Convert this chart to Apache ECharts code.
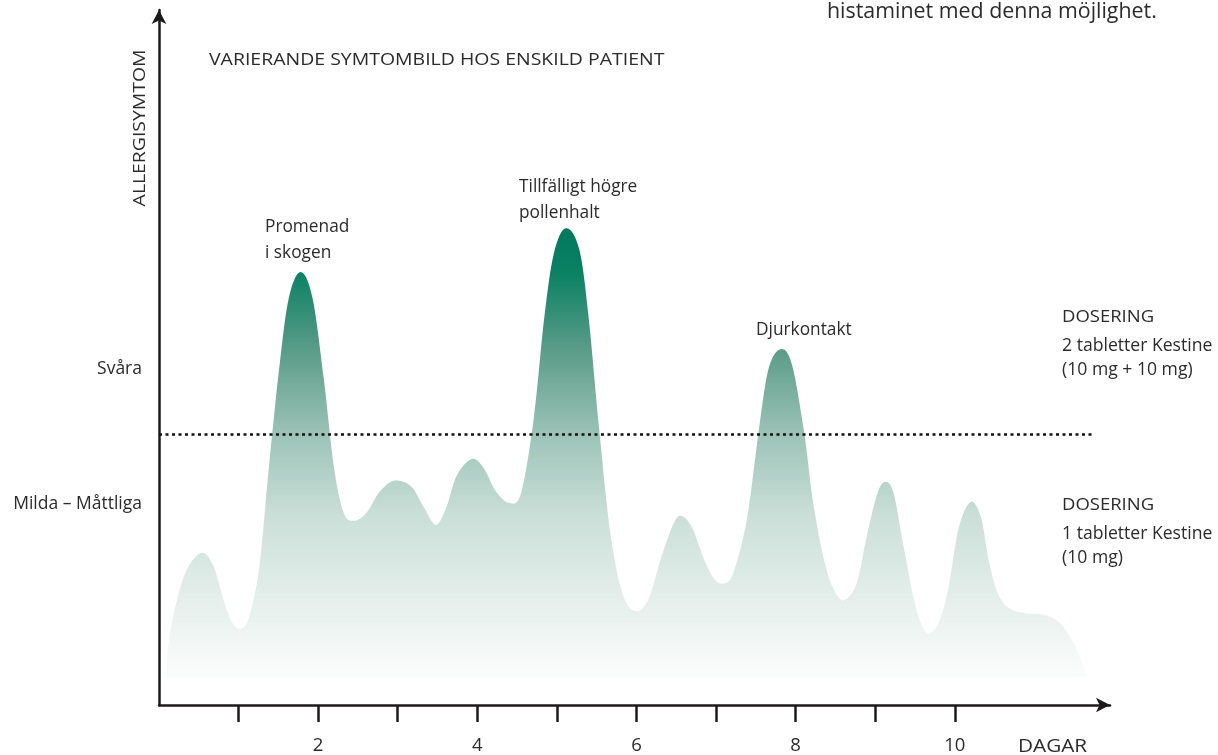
<!DOCTYPE html>
<html>
<head>
<meta charset="utf-8">
<script src="https://cdn.jsdelivr.net/npm/echarts@6/dist/echarts.min.js"></script>
<style>
html,body{margin:0;padding:0;background:#fff;}
#chart{width:1218px;height:755px;}
</style>
</head>
<body>
<div id="chart"></div>
<script>
// ---- data (days on x, symptom level 0-100 on y) ----
var days = [0.08,0.13,0.25,0.38,0.55,0.69,0.82,0.92,1.02,1.13,1.26,1.38,1.51,1.63,1.78,1.93,2.07,2.20,2.32,2.45,2.61,2.76,2.91,3.05,3.19,3.33,3.48,3.61,3.74,3.93,4.08,4.23,4.40,4.55,4.71,4.84,4.96,5.11,5.28,5.40,5.53,5.68,5.84,6.01,6.16,6.31,6.47,6.57,6.70,6.85,6.98,7.10,7.22,7.39,7.54,7.66,7.81,7.95,8.10,8.23,8.38,8.52,8.63,8.77,8.89,9.02,9.12,9.23,9.36,9.48,9.57,9.67,9.80,9.92,10.05,10.20,10.33,10.43,10.55,10.70,10.89,11.12,11.31,11.49,11.66];
var symptoms = [4.3,9.7,16.2,20.1,21.9,19.8,14.8,11.9,11.0,12.6,19.8,34.1,48.4,58.5,62.3,58.5,47.0,34.1,27.7,26.5,27.7,30.5,32.1,32.2,31.2,28.4,25.9,28.4,33.0,35.4,34.1,30.8,29.1,30.5,41.3,55.6,64.9,68.6,65.6,55.6,39.8,24.1,15.5,13.5,15.5,21.2,26.2,27.2,25.5,20.9,18.1,17.5,19.1,26.9,39.8,48.4,51.2,49.1,39.8,28.4,19.8,15.8,15.2,17.6,24.1,30.2,32.1,30.5,22.6,15.5,11.9,10.3,11.9,16.9,25.5,29.2,26.9,20.5,15.8,13.8,13.2,13.0,11.9,9.0,4.3];
var doseThreshold = 39;
var areaBase = 4;
var xTicks = [1,2,3,4,5,6,7,8,9,10];
var xTickLabels = [2,4,6,8,10];
var yLevelValues = [28.9, 48.4];
var yLevelLabels = ['Milda – Måttliga', 'Svåra'];
var annotations = [
  {text:'Promenad\ni skogen', x:265, y:214},
  {text:'Tillfälligt högre\npollenhalt', x:519, y:174},
  {text:'Djurkontakt', x:756, y:317}
];
var doseNotes = [
  {head:'DOSERING', body:'2 tabletter Kestine\n(10 mg + 10 mg)', y:317},
  {head:'DOSERING', body:'1 tabletter Kestine\n(10 mg)', y:505}
];

var FONT = '"Open Sans", "Liberation Sans", sans-serif';
var TXT = '#2b2b2b';
var AX = '#1c1a1b';

var chart = echarts.init(document.getElementById('chart'), null, {renderer:'canvas'});
var seriesData = days.map(function(d,i){return [d, symptoms[i]];});

var graphics = [];
graphics.push({type:'text', x:827, y:1, style:{text:'histaminet med denna möjlighet.', font:'21.4px '+FONT, fill:TXT}});
graphics.push({type:'text', x:209, y:60, scaleX:1.145, style:{text:'VARIERANDE SYMTOMBILD HOS ENSKILD PATIENT', font:'17px '+FONT, fill:TXT, verticalAlign:'middle'}});
graphics.push({type:'text', x:141, y:128, rotation:Math.PI/2, scaleX:1.25, style:{text:'ALLERGISYMTOM', font:'15.5px '+FONT, fill:TXT, align:'center', verticalAlign:'middle'}});
annotations.forEach(function(a){
  graphics.push({type:'text', x:a.x, y:a.y, style:{text:a.text, font:'17.3px '+FONT, fill:TXT, lineHeight:26}});
});
doseNotes.forEach(function(n){
  graphics.push({type:'text', x:1062, y:n.y, scaleX:1.12, style:{text:n.head, font:'16.5px '+FONT, fill:TXT, verticalAlign:'middle'}});
  graphics.push({type:'text', x:1062, y:n.y+17, style:{text:n.body, font:'17.6px '+FONT, fill:TXT, lineHeight:24}});
});
graphics.push({type:'text', x:1018, y:747, scaleX:1.12, style:{text:'DAGAR', font:'18.5px '+FONT, fill:TXT, verticalAlign:'middle'}});

var gradient = new echarts.graphic.LinearGradient(0,0,0,1,[
  {offset:0, color:'#00785b'},
  {offset:0.1, color:'#0b8164'},
  {offset:0.27, color:'#5a9c88'},
  {offset:0.46, color:'#9cc3b7'},
  {offset:0.64, color:'#cadfd8'},
  {offset:0.82, color:'#e4eeea'},
  {offset:1, color:'#fbfdfc'}
]);

function renderArea(params, api){
  if (params.dataIndex !== 0) return null;
  var pts = seriesData.map(function(d){ return api.coord(d); });
  var base = api.coord([0, areaBase])[1];
  var n = pts.length;
  var p = 'M' + pts[0][0] + ' ' + base + ' L' + pts[0][0] + ' ' + pts[0][1];
  for (var i = 0; i < n - 1; i++) {
    var p0 = pts[Math.max(i-1,0)], p1 = pts[i], p2 = pts[i+1], p3 = pts[Math.min(i+2,n-1)];
    var c1x = p1[0] + (p2[0]-p0[0])/6, c1y = p1[1] + (p2[1]-p0[1])/6;
    var c2x = p2[0] - (p3[0]-p1[0])/6, c2y = p2[1] - (p3[1]-p1[1])/6;
    p += ' C' + c1x + ' ' + c1y + ' ' + c2x + ' ' + c2y + ' ' + p2[0] + ' ' + p2[1];
  }
  p += ' L' + pts[n-1][0] + ' ' + base + ' Z';
  return {type:'path', shape:{pathData:p}, style:{fill:gradient, stroke:null}};
}

chart.setOption({
  animation:false,
  grid:{left:159, right:108, top:10, bottom:46},
  xAxis:{
    type:'value', min:0, max:11.95,
    axisLine:{show:true, symbol:['none','arrow'], symbolSize:[11,14], lineStyle:{color:AX, width:2.5}},
    axisTick:{show:true, customValues:xTicks, length:17, lineStyle:{color:AX, width:2.5}},
    axisLabel:{show:true, customValues:xTickLabels, margin:31, fontSize:18.5, color:TXT, fontFamily:FONT},
    splitLine:{show:false}
  },
  yAxis:{
    type:'value', min:0, max:100,
    axisLine:{show:true, symbol:['none','arrow'], symbolSize:[11,14], lineStyle:{color:AX, width:2.5}},
    axisTick:{show:false},
    axisLabel:{show:true, customValues:yLevelValues, margin:17, fontSize:17.5, color:TXT, fontFamily:FONT,
      formatter:function(v){var i=yLevelValues.indexOf(v);return i>=0?yLevelLabels[i]:'';}},
    splitLine:{show:false}
  },
  graphic:graphics,
  series:[{
    type:'custom',
    coordinateSystem:'cartesian2d',
    data:seriesData,
    encode:{x:0, y:1},
    clip:false,
    silent:true,
    renderItem:renderArea,
    z:1
  },{
    type:'line',
    data:[],
    silent:true,
    z:3,
    markLine:{
      silent:true, symbol:['none','none'],
      label:{show:false},
      lineStyle:{color:'#111', type:[3,3.5], width:2.5},
      data:[[{coord:[0,doseThreshold]},{coord:[11.72,doseThreshold]}]]
    }
  }]
});
</script>
</body>
</html>
